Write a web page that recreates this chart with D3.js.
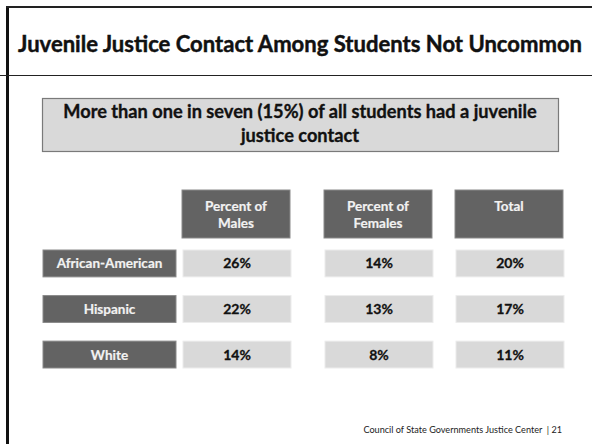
<!DOCTYPE html>
<html>
<head>
<meta charset="utf-8">
<script src="https://cdn.jsdelivr.net/npm/d3@7/dist/d3.min.js"></script>
<style>
  html, body { margin: 0; padding: 0; background: #fff; }
  svg { display: block; }
  text { font-family: Lato, "Open Sans", sans-serif; }
</style>
</head>
<body>
<script>
// Share of students with a juvenile justice contact, by group
const groups = ["African-American", "Hispanic", "White"];
const columns = ["Percent of Males", "Percent of Females", "Total"];
const headerLines = [["Percent of", "Males"], ["Percent of", "Females"], ["Total"]];
const males = [26, 22, 14];
const females = [14, 13, 8];
const total = [20, 17, 11];

const title = "Juvenile Justice Contact Among Students Not Uncommon";
const subtitleLines = ["More than one in seven (15%) of all students had a juvenile", "justice contact"];
const footer = "Council of State Governments Justice Center\u00a0\u00a0| 21";

const W = 592, H = 444;
const svg = d3.select("body").append("svg").attr("width", W).attr("height", H);

// slide frame
svg.append("line").attr("x1", 7.5).attr("x2", 7.5).attr("y1", 6).attr("y2", H)
  .attr("stroke", "#111").attr("stroke-width", 3);
svg.append("line").attr("x1", 6).attr("x2", W).attr("y1", 7).attr("y2", 7)
  .attr("stroke", "#222").attr("stroke-width", 2);
svg.append("line").attr("x1", 0).attr("x2", W).attr("y1", 75.5).attr("y2", 75.5)
  .attr("stroke", "#222").attr("stroke-width", 1.2);

// fit a text element to a target width by adjusting its font size
function fitWidth(sel, target) {
  const fs = parseFloat(sel.attr("font-size"));
  const w = sel.node().getComputedTextLength();
  sel.attr("font-size", (fs * target / w).toFixed(2));
}

const t = svg.append("text").attr("x", 300).attr("y", 52).attr("text-anchor", "middle")
  .attr("font-weight", 700).attr("font-size", 22).attr("fill", "#111")
  .attr("stroke", "#111").attr("stroke-width", 0.45).text(title);
fitWidth(t, 564);

// subtitle banner
svg.append("rect").attr("x", 42.5).attr("y", 98.5).attr("width", 516).attr("height", 53)
  .attr("fill", "#d9d9d9").attr("stroke", "#7a7a7a").attr("stroke-width", 1.2);
const subSize = [];
subtitleLines.forEach((line, i) => {
  const s = svg.append("text").attr("x", 300).attr("y", 117.5 + i * 24)
    .attr("text-anchor", "middle").attr("font-weight", 700).attr("font-size", 16)
    .attr("fill", "#111").attr("stroke", "#111").attr("stroke-width", 0.35).text(line);
  if (i === 0) { fitWidth(s, 474); subSize.push(s.attr("font-size")); }
  else s.attr("font-size", subSize[0]);
});

// layout scales
const x = d3.scaleOrdinal().domain(columns).range([183, 325, 456]);
const cellW = 108;
const y = d3.scaleBand().domain(groups).range([250, 368]).paddingInner(0.41).paddingOuter(0);
const values = { "Percent of Males": males, "Percent of Females": females, "Total": total };

const dark = "#636363", light = "#d9d9d9";

// column headers
const hdr = svg.append("g").selectAll("g").data(columns).join("g")
  .attr("transform", d => `translate(${x(d) - 1},190)`);
hdr.append("rect").attr("width", cellW).attr("height", 48)
  .attr("fill", dark).attr("stroke", "#8a8a8a").attr("stroke-width", 1);
hdr.each(function (d, i) {
  const lines = headerLines[i];
  d3.select(this).selectAll("text").data(lines).join("text")
    .attr("x", cellW / 2).attr("y", (l, j) => 21 + j * 17)
    .attr("text-anchor", "middle").attr("font-weight", 700).attr("font-size", 13.5)
    .attr("fill", "#f2f2f2").attr("stroke", "#f2f2f2").attr("stroke-width", 0.2).text(l => l);
});

// row labels
const rows = svg.append("g").selectAll("g").data(groups).join("g")
  .attr("transform", d => `translate(43,${y(d)})`);
rows.append("rect").attr("width", 133).attr("height", y.bandwidth())
  .attr("fill", dark).attr("stroke", "#8a8a8a").attr("stroke-width", 1);
rows.append("text").attr("x", 66.5).attr("y", y.bandwidth() / 2 + 5)
  .attr("text-anchor", "middle").attr("font-weight", 700).attr("font-size", 13.5)
  .attr("fill", "#f2f2f2").attr("stroke", "#f2f2f2").attr("stroke-width", 0.2).text(d => d);

// value cells
const cells = [];
columns.forEach(c => groups.forEach((g, i) => cells.push({ c, g, v: values[c][i] })));
const cg = svg.append("g").selectAll("g").data(cells).join("g")
  .attr("transform", d => `translate(${x(d.c)},${y(d.g)})`);
cg.append("rect").attr("width", cellW).attr("height", y.bandwidth())
  .attr("fill", light).attr("stroke", "#ececec").attr("stroke-width", 1);
cg.append("text").attr("x", cellW / 2).attr("y", y.bandwidth() / 2 + 5)
  .attr("text-anchor", "middle").attr("font-weight", 700).attr("font-size", 14)
  .attr("fill", "#111").attr("stroke", "#111").attr("stroke-width", 0.3).text(d => d.v + "%");

// footer
const f = svg.append("text").attr("x", 562).attr("y", 433).attr("text-anchor", "end")
  .attr("font-size", 9).attr("fill", "#222").text(footer);
fitWidth(f, 199);
</script>
</body>
</html>
